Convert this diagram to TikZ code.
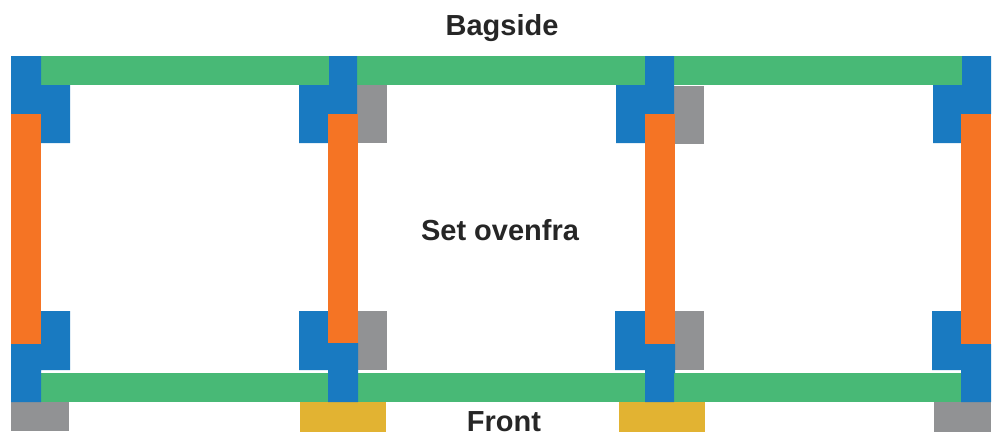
\documentclass[tikz,border=0pt]{standalone}
\usepackage{fontspec}
\setmainfont{Liberation Sans}
\definecolor{framegreen}{RGB}{72,185,118}
\definecolor{frameblue}{RGB}{25,122,193}
\definecolor{frameorange}{RGB}{245,116,36}
\definecolor{framegray}{RGB}{145,146,148}
\definecolor{frameyellow}{RGB}{226,179,50}
\tikzset{
  greenbar/.style={fill=framegreen},
  bluebar/.style={fill=frameblue},
  orangebar/.style={fill=frameorange},
  graybar/.style={fill=framegray},
  yellowbar/.style={fill=frameyellow},
  framelabel/.style={font=\fontsize{29}{34}\selectfont\bfseries,text=black!85,inner sep=0pt,anchor=base}
}
\begin{document}
\begin{tikzpicture}[x=1pt,y=-1pt]
\useasboundingbox (0,0) rectangle (998,434);
% gray and yellow blocks
\fill [graybar] (357,85) rectangle (387,143);
\fill [graybar] (674,86) rectangle (704,144);
\fill [graybar] (358,311) rectangle (387,370);
\fill [graybar] (674,311) rectangle (704,370);
\fill [graybar] (11,402) rectangle (69,431);
\fill [graybar] (934,402) rectangle (991,432);
\fill [yellowbar] (300,402) rectangle (386,432);
\fill [yellowbar] (619,402) rectangle (705,432);
% green rails
\fill [greenbar] (41,56) rectangle (329,85);
\fill [greenbar] (357,56) rectangle (645,85);
\fill [greenbar] (674,56) rectangle (962,85);
\fill [greenbar] (41,373) rectangle (328,402);
\fill [greenbar] (358,373) rectangle (645,402);
\fill [greenbar] (674,373) rectangle (961,402);
% blue corners, top
\fill [bluebar] (11,56) -- (41,56) -- (41,85) -- (70,85) -- (70,143) -- (41,143) -- (41,114) -- (11,114) -- cycle;
\fill [bluebar] (329,56) -- (357,56) -- (357,114) -- (328,114) -- (328,143) -- (299,143) -- (299,85) -- (329,85) -- cycle;
\fill [bluebar] (645,56) -- (674,56) -- (674,114) -- (645,114) -- (645,143) -- (616,143) -- (616,85) -- (645,85) -- cycle;
\fill [bluebar] (962,56) -- (991,56) -- (991,114) -- (961,114) -- (961,143) -- (933,143) -- (933,85) -- (962,85) -- cycle;
% blue corners, bottom
\fill [bluebar] (41,311) -- (70,311) -- (70,370) -- (41,370) -- (41,402) -- (11,402) -- (11,344) -- (41,344) -- cycle;
\fill [bluebar] (299,311) -- (329,311) -- (329,343) -- (358,343) -- (358,402) -- (328,402) -- (328,370) -- (299,370) -- cycle;
\fill [bluebar] (615,311) -- (645,311) -- (645,344) -- (675,344) -- (675,373) -- (674,373) -- (674,402) -- (645,402) -- (645,370) -- (615,370) -- cycle;
\fill [bluebar] (932,311) -- (962,311) -- (962,344) -- (991,344) -- (991,402) -- (961,402) -- (961,370) -- (932,370) -- cycle;
% orange posts
\fill [orangebar] (11,114) rectangle (41,344);
\fill [orangebar] (328,114) rectangle (358,343);
\fill [orangebar] (645,114) rectangle (675,344);
\fill [orangebar] (961,114) rectangle (991,344);
% labels
\node [framelabel] (bagside) at (502,35) {Bagside};
\node [framelabel] (ovenfra) at (500,240) {Set ovenfra};
\node [framelabel] (front) at (504,431) {Front};
\end{tikzpicture}
\end{document}
